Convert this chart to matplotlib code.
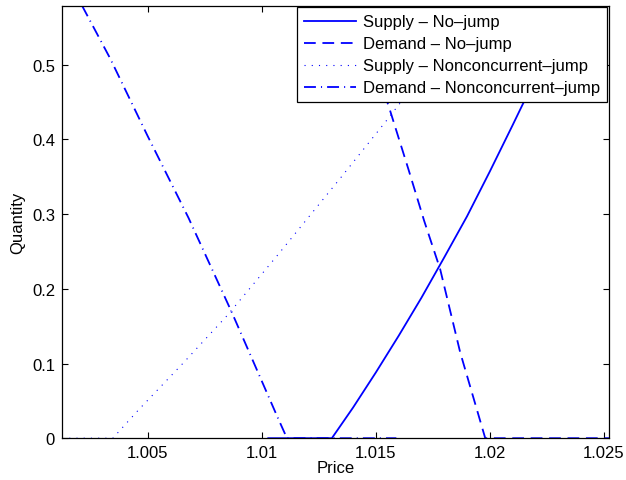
import matplotlib
matplotlib.use("Agg")
import matplotlib.pyplot as plt

plt.rcParams['font.family'] = ['Liberation Sans', 'DejaVu Sans']

# Supply - No-jump (solid)
supply_nojump_price = [1.01028, 1.01307, 1.0140, 1.0150, 1.0160, 1.0170, 1.0180, 1.0190,
                       1.0200, 1.0210, 1.0220, 1.0230, 1.02347]
supply_nojump_qty = [0.0, 0.0, 0.041, 0.088, 0.137, 0.188, 0.242, 0.297,
                     0.357, 0.419, 0.482, 0.548, 0.579]

# Demand - No-jump (dashed)
demand_nojump_price = [1.0141, 1.0156, 1.01643, 1.01712, 1.01782, 1.0187, 1.0198, 1.02523]
demand_nojump_qty = [0.579, 0.441, 0.360, 0.291, 0.2265, 0.115, 0.0, 0.0]

# Supply - Nonconcurrent-jump (dotted)
supply_nonc_price = [1.00123, 1.00346, 1.00459, 1.00656, 1.00847, 1.01066, 1.01344, 1.01541, 1.0175, 1.0192]
supply_nonc_qty = [0.0, 0.0, 0.038, 0.101, 0.164, 0.244, 0.348, 0.423, 0.505, 0.579]

# Demand - Nonconcurrent-jump (dash-dot)
demand_nonc_price = [1.00211, 1.00335, 1.00498, 1.00678, 1.00868, 1.01066, 1.0111, 1.0159]
demand_nonc_qty = [0.579, 0.508, 0.405, 0.295, 0.1685, 0.030, 0.0, 0.0]

labels = ["Supply \u2013 No\u2013jump", "Demand \u2013 No\u2013jump",
          "Supply \u2013 Nonconcurrent\u2013jump", "Demand \u2013 Nonconcurrent\u2013jump"]

xticks = [1.005, 1.01, 1.015, 1.02, 1.025]
xticklabels = ["1.005", "1.01", "1.015", "1.02", "1.025"]
yticks = [0, 0.1, 0.2, 0.3, 0.4, 0.5]
yticklabels = ["0", "0.1", "0.2", "0.3", "0.4", "0.5"]

fs = 12
fig = plt.figure(figsize=(6.26, 4.81), dpi=100)
ax = fig.add_axes([62/626, (481-439.2)/481, (609-62)/626, (439.2-6.7)/481])

blue = (0, 0, 1)
lw = 1.3
ax.plot(supply_nojump_price, supply_nojump_qty, color=blue, lw=lw, linestyle='-', label=labels[0])
ax.plot(demand_nojump_price, demand_nojump_qty, color=blue, lw=lw, linestyle=(0, (6.5, 3.7)), label=labels[1])
ax.plot(supply_nonc_price, supply_nonc_qty, color=blue, lw=0.8, linestyle=(0, (1, 5.5)), label=labels[2])
ax.plot(demand_nonc_price, demand_nonc_qty, color=blue, lw=lw, linestyle=(0, (6.6, 2.8, 0.6, 2.8)), label=labels[3])

ax.set_xlim(1.00123, 1.02523)
ax.set_ylim(0, 0.579)
ax.set_xticks(xticks)
ax.set_xticklabels(xticklabels, fontsize=fs)
ax.set_yticks(yticks)
ax.set_yticklabels(yticklabels, fontsize=fs)
ax.tick_params(direction='in', length=4, width=0.8, top=True, right=True, pad=5)
for s in ax.spines.values():
    s.set_linewidth(0.9)
ax.set_xlabel("Price", fontsize=fs, labelpad=0)
ax.set_ylabel("Quantity", fontsize=fs, labelpad=5)

leg = ax.legend(loc='upper right', bbox_to_anchor=(1.0, 1.0), borderaxespad=0.1,
                fontsize=fs, fancybox=False, framealpha=1, edgecolor='black',
                handlelength=3.15, handletextpad=0.42, labelspacing=0.42, borderpad=0.42)
leg.get_frame().set_linewidth(0.9)

fig.savefig("out.png", dpi=100)
